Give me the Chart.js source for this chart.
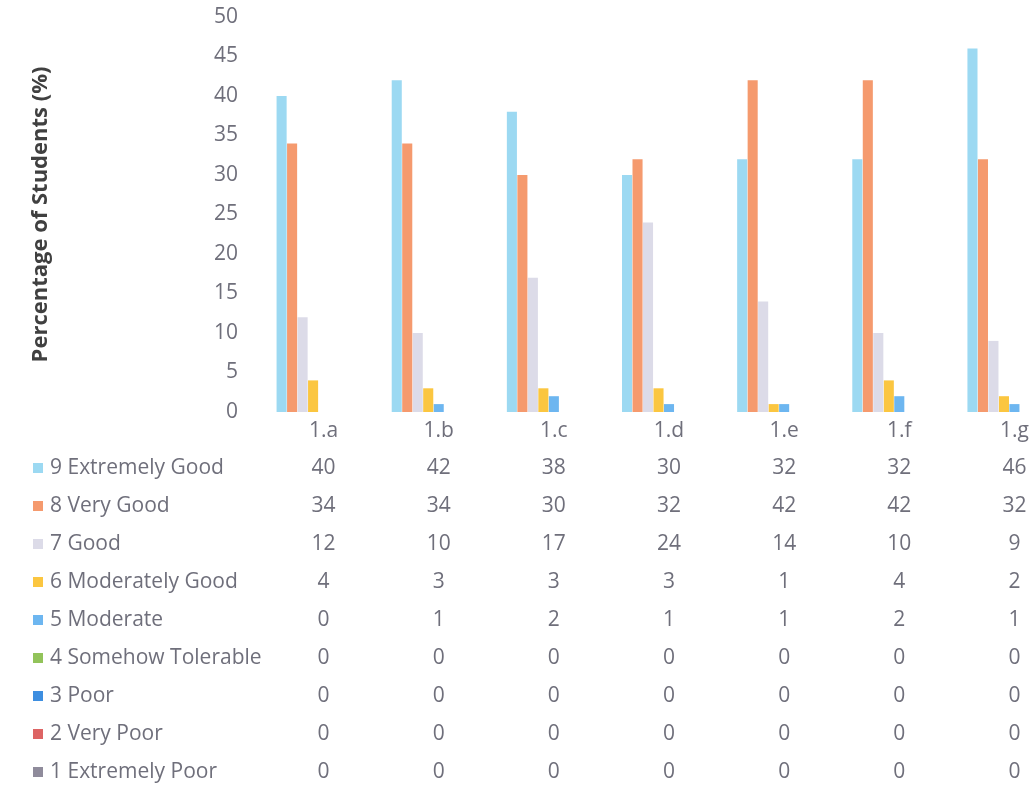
<!DOCTYPE html>
<html>
<head>
<meta charset="utf-8">
<script src="https://cdn.jsdelivr.net/npm/chart.js@4.4.1/dist/chart.umd.min.js"></script>
<style>
    html, body { margin: 0; padding: 0; background: #ffffff; }
    #wrap { width: 1031px; height: 793px; overflow: hidden; position: relative; }
    #box { width: 1075px; height: 793px; position: absolute; left: 0; top: 0; }
</style>
</head>
<body>
<div id="wrap">
    <div id="box"><canvas id="js--chart"></canvas></div>
</div>
<script>
const categories = ["1.a", "1.b", "1.c", "1.d", "1.e", "1.f", "1.g"];
const seriesNames = [
    "9 Extremely Good",
    "8 Very Good",
    "7 Good",
    "6 Moderately Good",
    "5 Moderate",
    "4 Somehow Tolerable",
    "3 Poor",
    "2 Very Poor",
    "1 Extremely Poor",
];
const extremelyGood = [40, 42, 38, 30, 32, 32, 46];
const veryGood = [34, 34, 30, 32, 42, 42, 32];
const good = [12, 10, 17, 24, 14, 10, 9];
const moderatelyGood = [4, 3, 3, 3, 1, 4, 2];
const moderate = [0, 1, 2, 1, 1, 2, 1];
const somehowTolerable = [0, 0, 0, 0, 0, 0, 0];
const poor = [0, 0, 0, 0, 0, 0, 0];
const veryPoor = [0, 0, 0, 0, 0, 0, 0];
const extremelyPoor = [0, 0, 0, 0, 0, 0, 0];
const yTicks = [0, 5, 10, 15, 20, 25, 30, 35, 40, 45, 50];

const allValues = [extremelyGood, veryGood, good, moderatelyGood, moderate,
    somehowTolerable, poor, veryPoor, extremelyPoor];
const colors = ['#9cd9f2', '#f59a6e', '#dcdbe8', '#fbc640', '#6db6f0',
    '#92c35a', '#3d8ee0', '#dd6464', '#8f8b9b'];

const textColor = '#6f6f7b';
const fontName = '"Open Sans", Lato, sans-serif';

// data table under the chart (legend keys + values per category)
const dataTable = {
    id: 'dataTable',
    afterDraw(chart) {
        const ctx = chart.ctx;
        const x = chart.scales.x;
        ctx.save();
        ctx.font = '21px ' + fontName;
        ctx.textBaseline = 'middle';
        for (let i = 0; i < seriesNames.length; i++) {
            const y = 468 + i * 38;
            ctx.fillStyle = colors[i];
            ctx.fillRect(33, y - 5, 10, 10);
            ctx.fillStyle = textColor;
            ctx.textAlign = 'left';
            ctx.fillText(seriesNames[i], 50, y);
            ctx.textAlign = 'center';
            for (let j = 0; j < categories.length; j++) {
                ctx.fillText(String(allValues[i][j]), x.getPixelForValue(j), y);
            }
        }
        ctx.restore();
    }
};

const datasets = [];
for (let i = 0; i < seriesNames.length; i++) {
    datasets.push({
        label: seriesNames[i],
        data: allValues[i],
        backgroundColor: colors[i],
        borderWidth: 0,
    });
}

const config = {
    type: 'bar',
    data: { labels: categories, datasets: datasets },
    plugins: [dataTable],
    options: {
        responsive: true,
        maintainAspectRatio: false,
        animation: false,
        layout: { padding: { top: 0, left: 24, right: 3, bottom: 0 } },
        datasets: { bar: { categoryPercentage: 0.82, barPercentage: 0.96 } },
        plugins: {
            legend: { display: false },
            tooltip: { enabled: false },
        },
        scales: {
            x: {
                grid: { display: false },
                border: { display: false },
                ticks: { color: textColor, font: { family: fontName, size: 21 }, padding: -2 },
                afterFit: function (scale) { scale.height = 381; },
            },
            y: {
                min: 0,
                max: 50,
                grid: { display: false },
                border: { display: false },
                afterBuildTicks: function (scale) {
                    scale.ticks = yTicks.map(v => ({ value: v }));
                },
                ticks: { color: textColor, font: { family: fontName, size: 21 }, padding: 20 },
                title: {
                    display: true,
                    text: 'Percentage of Students (%)',
                    color: '#404040',
                    font: { family: fontName, size: 22, weight: 'bold' },
                },
                afterFit: function (scale) {
                    scale.width = 242;
                    scale.paddingTop = 17; // top of plot where 50 sits
                },
            },
        },
    },
};

const chart = new Chart(document.getElementById("js--chart"), config);
</script>
</body>
</html>
